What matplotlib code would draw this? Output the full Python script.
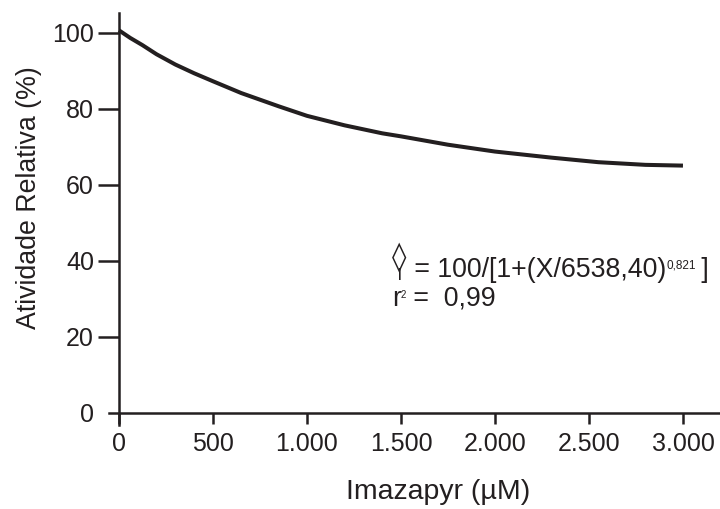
import matplotlib
matplotlib.use('Agg')
import matplotlib.pyplot as plt

# Data (fitted curve)
conc = [0, 60, 125, 200, 300, 400, 500, 650, 850, 1000, 1200, 1400, 1500,
        1750, 2000, 2300, 2550, 2800, 3000]
atividade = [100.7, 98.7, 96.8, 94.4, 91.7, 89.4, 87.3, 84.2, 80.7, 78.2, 75.7,
             73.6, 72.8, 70.6, 68.8, 67.2, 66.0, 65.3, 65.1]
xticks = [0, 500, 1000, 1500, 2000, 2500, 3000]
xticklabels = ['0', '500', '1.000', '1.500', '2.000', '2.500', '3.000']
yticks = [0, 20, 40, 60, 80, 100]
yticklabels = ['0', '20', '40', '60', '80', '100']

plt.rcParams['font.family'] = ['Liberation Sans', 'DejaVu Sans']
ink = '#231f20'

fig = plt.figure(figsize=(7.2, 5.09), dpi=100)
ax = fig.add_axes([109 / 720, 84 / 509, 611 / 720, 412 / 509])
ax.plot(conc, atividade, color=ink, lw=2.9, solid_joinstyle='round', solid_capstyle='butt')

ax.set_xlim(-53, 3197)
ax.set_ylim(-3.16, 105.26)
for s in ['top', 'right']:
    ax.spines[s].set_visible(False)
ax.spines['left'].set_position(('data', 0))
ax.spines['bottom'].set_position(('data', 0))
for s in ['left', 'bottom']:
    ax.spines[s].set_linewidth(1.8)
    ax.spines[s].set_color(ink)

ax.set_xticks(xticks)
ax.set_xticklabels(xticklabels)
ax.set_yticks(yticks)
ax.set_yticklabels(yticklabels)
ax.tick_params(axis='x', direction='out', length=8, width=1.8, color=ink,
               labelsize=18, pad=6, labelcolor=ink)
ax.tick_params(axis='y', direction='out', length=15, width=1.8, color=ink,
               labelsize=18, pad=3, labelcolor=ink)
ax.yaxis.get_major_ticks()[0].tick1line.set_visible(False)

ax.set_xlabel('Imazapyr (µM)', fontsize=20.5, color=ink)
ax.xaxis.set_label_coords(0.5385, -0.131)
ax.set_ylabel('Atividade Relativa (%)', fontsize=19.3, color=ink)
ax.yaxis.set_label_coords(-0.11, 0.552)

# Equation
fs = 19.3
x0, yb1, yb2 = 1452, 35.8, 28.2
ax.annotate('◊', xy=(x0, yb1), xycoords='data', xytext=(5.4, 14.0),
            textcoords='offset points', ha='center', va='center', fontsize=21,
            fontweight='bold', color=ink, family=['DejaVu Sans'])
ax.annotate('|', xy=(x0, yb1), xycoords='data', xytext=(5.4, 0),
            textcoords='offset points', ha='center', va='baseline', fontsize=9,
            fontweight='bold', color=ink)
t2 = ax.annotate(' = 100/[1+(X/6538,40)', xy=(x0, yb1), xycoords='data',
                 xytext=(10.8, 0), textcoords='offset points', va='baseline',
                 ha='left', fontsize=fs, color=ink)
t3 = ax.annotate('0,821', xy=(1, 1), xycoords=t2, xytext=(0.5, -1.5),
                 textcoords='offset points', va='top', ha='left', fontsize=8.5, color=ink)
ax.annotate(' ]', xy=(1, 0), xycoords=(t3, t2), xytext=(-1.5, 0),
            textcoords='offset points', va='bottom', ha='left',
            fontsize=fs, color=ink)

r1 = ax.text(x0, yb2, 'r', va='baseline', ha='left', fontsize=fs, color=ink)
r2 = ax.annotate('2', xy=(1, 1), xycoords=r1, xytext=(0, -3.0),
                 textcoords='offset points', va='top', ha='left', fontsize=7, color=ink)
ax.annotate(' =  0,99', xy=(1, 0), xycoords=(r2, r1), va='bottom', ha='left',
            fontsize=fs, color=ink)

fig.savefig('out.png', dpi=100)
